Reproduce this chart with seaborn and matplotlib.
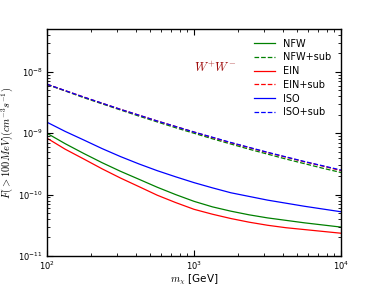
import numpy as np
import pandas as pd
import matplotlib
matplotlib.use("Agg")
import matplotlib.pyplot as plt
import seaborn as sns

# -- Data (log10 of flux) ------------------------------------------------------
MASS = [100, 133, 178, 237, 316, 422, 562, 750, 1000,
        1334, 1778, 2371, 3162, 4217, 5623, 7499, 10000]

LOG_NFW = [-9.00, -9.17, -9.33, -9.48, -9.62, -9.75, -9.88, -10.00, -10.11,
           -10.20, -10.27, -10.33, -10.38, -10.42, -10.46, -10.495, -10.53]
LOG_NFW_SUB = [-8.205, -8.31, -8.42, -8.52, -8.62, -8.72, -8.815, -8.91, -9.00,
               -9.09, -9.175, -9.26, -9.34, -9.42, -9.495, -9.57, -9.64]
LOG_EIN = [-9.08, -9.26, -9.42, -9.58, -9.73, -9.87, -10.01, -10.13, -10.24,
           -10.32, -10.39, -10.45, -10.50, -10.54, -10.57, -10.60, -10.63]
LOG_EIN_SUB = [-8.20, -8.305, -8.41, -8.51, -8.61, -8.705, -8.80, -8.89, -8.98,
               -9.07, -9.155, -9.235, -9.315, -9.39, -9.465, -9.535, -9.61]
LOG_ISO = [-8.82, -8.97, -9.11, -9.25, -9.38, -9.50, -9.61, -9.71, -9.805,
           -9.89, -9.97, -10.03, -10.09, -10.14, -10.19, -10.235, -10.28]
LOG_ISO_SUB = [-8.20, -8.305, -8.41, -8.51, -8.61, -8.705, -8.80, -8.89, -8.98,
               -9.065, -9.15, -9.23, -9.31, -9.385, -9.46, -9.53, -9.60]

SERIES = [
    ("NFW", LOG_NFW, "g", "-"),
    ("NFW+sub", LOG_NFW_SUB, "g", "--"),
    ("EIN", LOG_EIN, "r", "-"),
    ("EIN+sub", LOG_EIN_SUB, "r", "--"),
    ("ISO", LOG_ISO, "b", "-"),
    ("ISO+sub", LOG_ISO_SUB, "b", "--"),
]

# plain matplotlib look with inward ticks on all four sides
plt.rcParams.update({
    "font.family": ["DejaVu Sans"],
    "mathtext.fontset": "cm",
    "axes.axisbelow": False,
    "xtick.direction": "in",
    "ytick.direction": "in",
    "xtick.top": True,
    "ytick.right": True,
    "xtick.major.size": 4,
    "ytick.major.size": 4,
    "xtick.minor.size": 2,
    "ytick.minor.size": 2,
    "xtick.major.width": 0.8,
    "ytick.major.width": 0.8,
    "xtick.minor.width": 0.6,
    "ytick.minor.width": 0.6,
})

fig = plt.figure(figsize=(3.79, 2.85), dpi=100)
ax = fig.add_axes([0.124, 0.102, 0.776, 0.796])
ax.set_xscale("log")
ax.set_yscale("log")

for name, logs, color, ls in SERIES:
    df = pd.DataFrame({"mass": MASS, "flux": np.power(10.0, logs)})
    sns.lineplot(data=df, x="mass", y="flux", ax=ax, color=color,
                 linestyle=ls, linewidth=0.9, label=name)

ax.set_xlim(100, 10000)
ax.set_ylim(1e-11, 5e-8)

# keep tick marks above everything inside the frame
ax.patch.set_visible(False)
ax.xaxis.set_zorder(3)
ax.yaxis.set_zorder(3)

for s in ax.spines.values():
    s.set_linewidth(1.0)
    s.set_color("black")
ax.tick_params(which="major", direction="in", length=4, width=0.8,
               color="black", labelsize=6, pad=3, top=True, right=True)
ax.tick_params(which="minor", direction="in", length=2, width=0.6,
               color="black", top=True, right=True)

ax.set_xlabel(r"$m_\chi$ [GeV]", fontsize=7.5)
ax.set_ylabel(r"$F(>100MeV)(cm^{-3}s^{-1})$", fontsize=7.5)
ax.xaxis.set_label_coords(0.5, -0.075)
ax.yaxis.set_label_coords(-0.11, 0.5)

ax.text(1000, 1.15e-8, r"$W^{+}W^{-}$", color="#a01010", fontsize=9,
        ha="left", va="center")

ax.legend(loc="upper right", frameon=False, fontsize=7, handlelength=2.2,
          labelspacing=0.38, borderaxespad=0.6)

fig.savefig("out.png", dpi=100)
